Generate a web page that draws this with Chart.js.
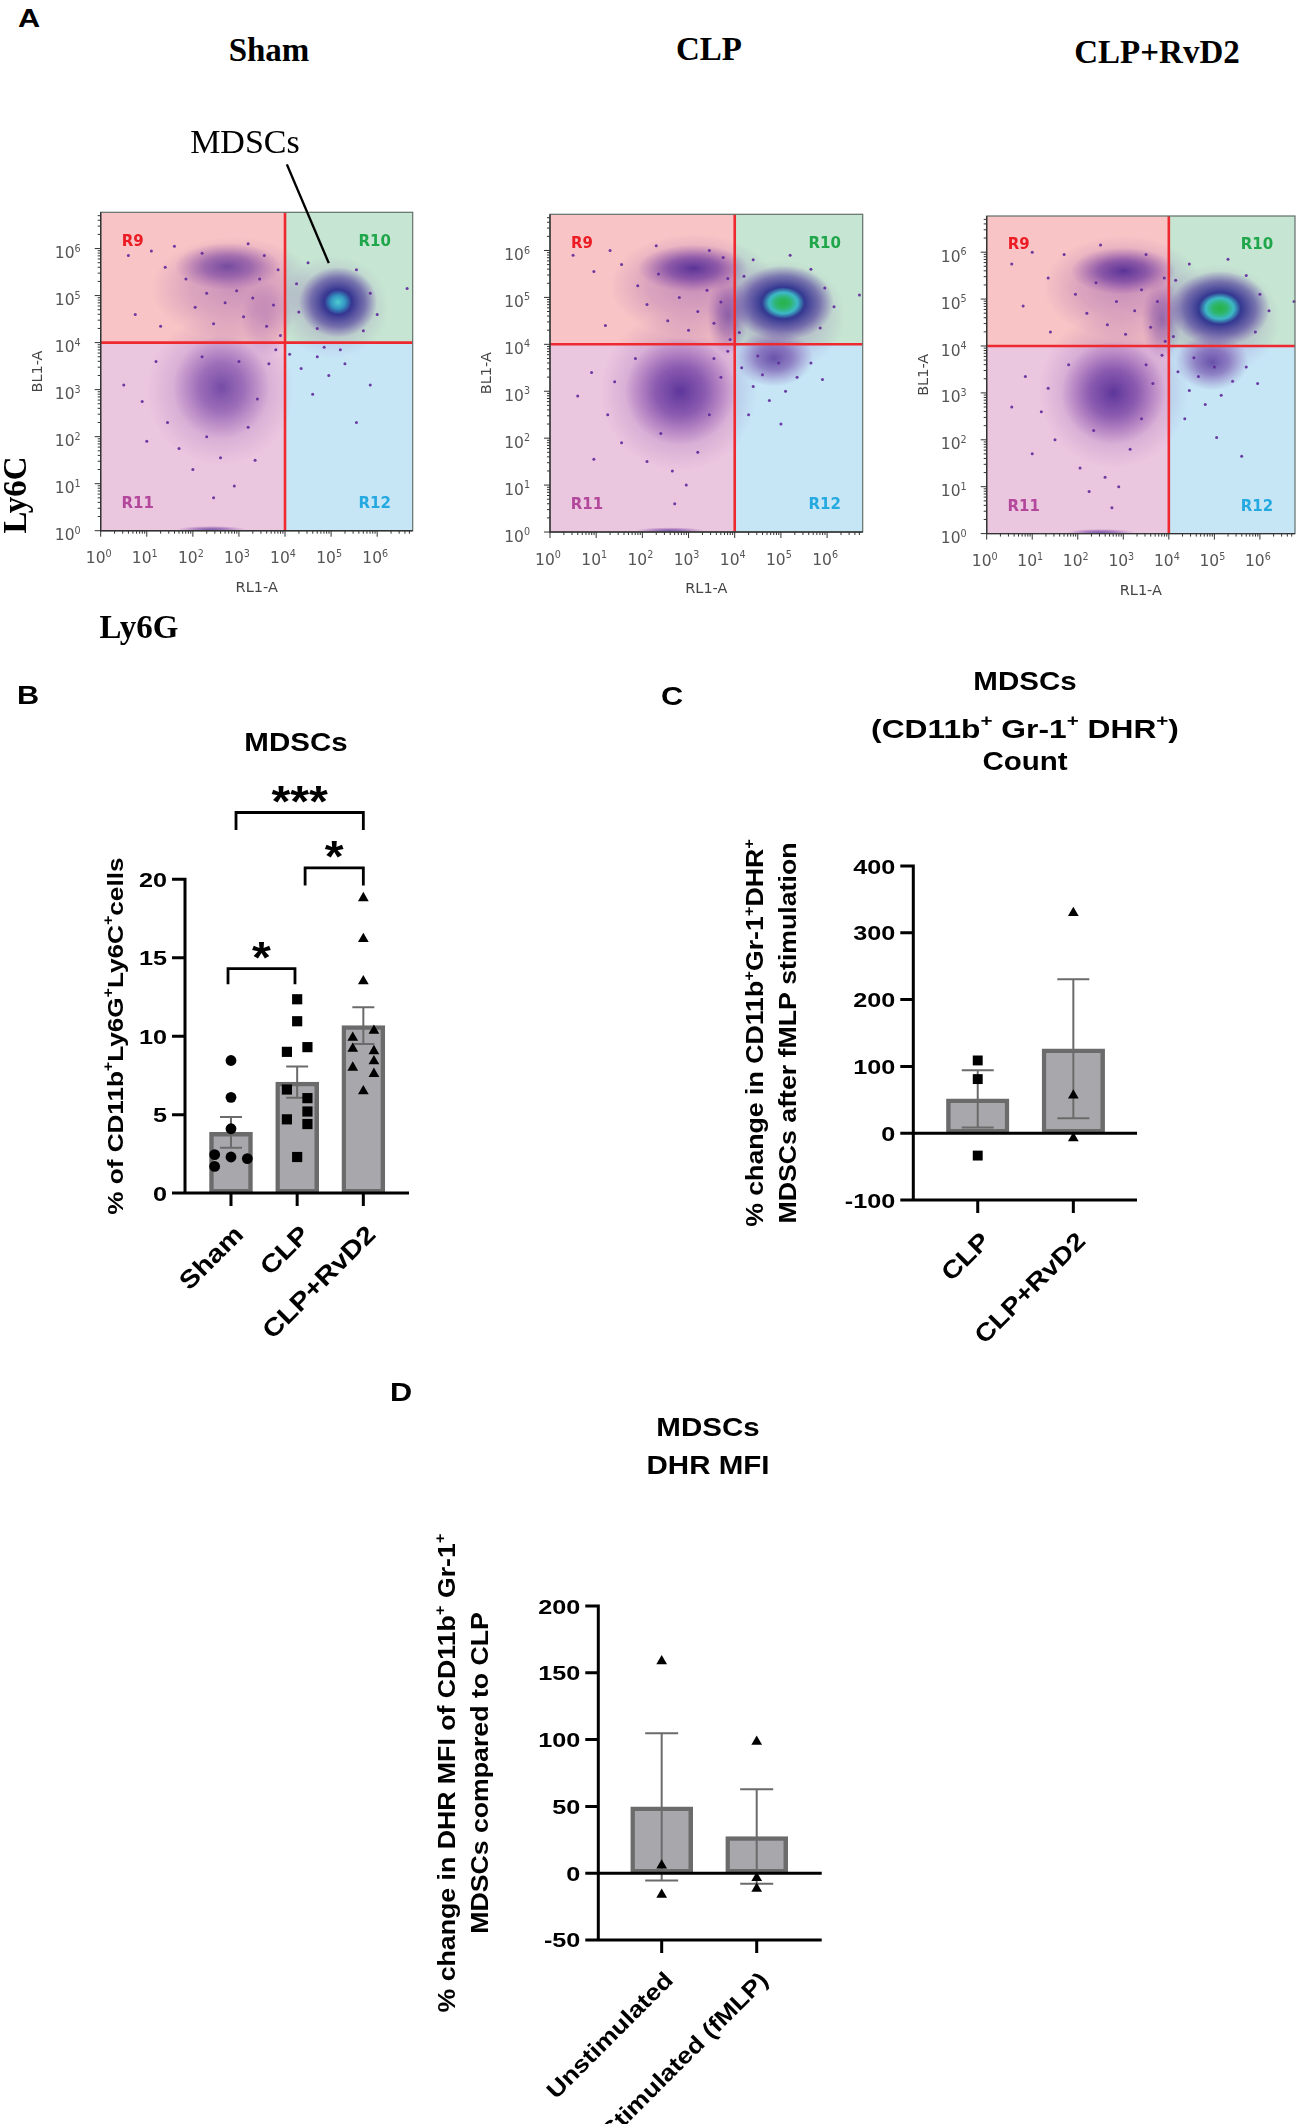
<!DOCTYPE html>
<html>
<head>
<meta charset="utf-8">
<title>MDSCs</title>
<script src="https://cdn.jsdelivr.net/npm/chart.js@4.4.1/dist/chart.umd.min.js"></script>
<style>
  html, body { margin: 0; padding: 0; background: #fff; }
  body { position: relative; width: 1299px; height: 2124px; overflow: hidden; }
  canvas { position: absolute; }
  .t { position: absolute; white-space: nowrap; line-height: 1; color: #000; transform: translate(-50%, -50%); }
  .serif { font-family: "Liberation Serif", "Times New Roman", serif; font-weight: bold; font-size: 33px; }
  .sans { font-family: "Liberation Sans", Arial, sans-serif; font-weight: bold; font-size: 25px; transform: translate(-50%, -50%) scaleX(1.18); }
  .wide { transform: translate(-50%, -50%) scaleX(1.27); }
  .letter { font-size: 26px; }
  .sup { position: relative; top: -0.75em; font-size: 0.65em; }
</style>
</head>
<body>
<canvas id="flowSham" width="430" height="530" style="left:0px;top:90px"></canvas>
<canvas id="flowClp" width="440" height="530" style="left:440px;top:90px"></canvas>
<canvas id="flowRvd2" width="419" height="530" style="left:880px;top:90px"></canvas>
<canvas id="panelB" width="440" height="720" style="left:0px;top:640px"></canvas>
<canvas id="panelC" width="540" height="720" style="left:640px;top:640px"></canvas>
<canvas id="panelD" width="520" height="784" style="left:340px;top:1340px"></canvas>

<div class="t sans letter" style="left:29px;top:18px">A</div>
<div class="t serif" style="left:269px;top:50px">Sham</div>
<div class="t serif" style="left:709px;top:49px">CLP</div>
<div class="t serif" style="left:1157px;top:52px">CLP+RvD2</div>
<div class="t serif" style="left:15px;top:495px;transform:translate(-50%,-50%) rotate(-90deg)">Ly6C</div>
<div class="t serif" style="left:139px;top:627px">Ly6G</div>

<div class="t sans letter" style="left:28px;top:695px">B</div>
<div class="t sans" style="left:296px;top:742px">MDSCs</div>

<div class="t sans letter" style="left:672px;top:696px">C</div>
<div class="t sans" style="left:1025px;top:681px">MDSCs</div>
<div class="t sans wide" style="left:1025px;top:729px">(CD11b<span class="sup">+</span> Gr-1<span class="sup">+</span> DHR<span class="sup">+</span>)</div>
<div class="t sans" style="left:1025px;top:761px">Count</div>

<div class="t sans letter" style="left:401px;top:1392px">D</div>
<div class="t sans" style="left:708px;top:1427px">MDSCs</div>
<div class="t sans" style="left:708px;top:1465px">DHR MFI</div>

<script>
// ---------- Panel A: flow cytometry, RL1-A (Ly6G) vs BL1-A (Ly6C) ----------
const flowDecades = [0, 1, 2, 3, 4, 5, 6];
const flowMax = 5.9e6;
const gateLy6G = 1e4;
const gateLy6C = 1e4;
const regionNames = ['R9', 'R10', 'R11', 'R12'];

// clouds: [log10 RL1-A, log10 BL1-A, spread RL1-A (decades), spread BL1-A (decades), kind, density]
// kind 0 = sparse haze, 1 = dense purple, 2 = cyan core, 3 = green core
const shamClusters = [
  [2.9, 5.15, 1.8, 1.1, 0, 0.7],
  [2.75, 5.62, 1.15, 0.5, 1, 0.75],
  [2.6, 3.0, 1.6, 1.6, 0, 0.65],
  [2.62, 3.05, 1.05, 1.1, 1, 0.7],
  [3.6, 4.5, 0.55, 0.8, 0, 0.55],
  [5.05, 4.75, 1.2, 1.1, 0, 0.55],
  [5.15, 4.86, 0.85, 0.75, 2, 1],
  [2.4, 0.03, 0.75, 0.07, 1, 0.7]
];
const clpClusters = [
  [3.1, 5.25, 1.8, 1.1, 0, 0.75],
  [3.1, 5.62, 1.2, 0.5, 1, 0.95],
  [2.8, 3.0, 1.7, 1.7, 0, 0.75],
  [2.82, 3.0, 1.2, 1.15, 1, 0.9],
  [3.85, 4.6, 0.45, 0.85, 1, 0.6],
  [5.0, 4.6, 1.4, 1.2, 0, 0.65],
  [4.85, 3.7, 0.85, 0.6, 1, 0.8],
  [5.05, 4.88, 1.1, 0.8, 3, 1],
  [2.6, 0.03, 0.75, 0.07, 1, 0.7]
];
const rvd2Clusters = [
  [3.0, 5.25, 1.75, 1.1, 0, 0.75],
  [3.0, 5.6, 1.15, 0.5, 1, 0.95],
  [2.8, 3.05, 1.65, 1.65, 0, 0.75],
  [2.78, 3.0, 1.15, 1.1, 1, 0.9],
  [3.85, 4.55, 0.45, 0.85, 1, 0.55],
  [5.05, 4.55, 1.4, 1.2, 0, 0.65],
  [4.95, 3.65, 0.8, 0.6, 1, 0.8],
  [5.12, 4.8, 1.1, 0.8, 3, 1],
  [2.5, 0.03, 0.75, 0.07, 1, 0.7]
];

// single events outside the clouds: [log10 RL1-A, log10 BL1-A]
const shamEvents = [
  [0.6,5.85],[1.1,5.95],[1.4,5.6],[1.6,6.05],[1.85,5.35],[2.05,4.75],[2.3,5.05],[2.45,4.4],
  [2.7,4.85],[2.95,5.1],[3.1,4.55],[3.3,4.95],[3.45,5.35],[3.6,4.35],[3.75,4.8],[3.85,5.55],
  [3.9,4.15],[3.55,5.85],[1.3,4.35],[0.75,4.6],[2.2,5.9],[3.2,6.1],
  [0.5,3.1],[0.9,2.75],[1.2,3.6],[1.45,2.3],[1.7,1.75],[2.0,1.3],[2.3,2.0],[2.6,1.55],
  [2.9,0.95],[3.2,2.2],[3.4,2.8],[3.65,3.55],[3.8,3.85],[3.35,1.5],[2.45,0.7],[1.0,1.9],
  [3.0,3.6],[2.2,3.7],
  [4.25,5.25],[4.5,5.7],[4.7,4.3],[5.55,5.55],[5.85,5.05],[6.0,4.6],[6.65,5.15],[4.3,4.65],[5.7,4.25],
  [4.1,3.75],[4.35,3.45],[4.7,3.7],[4.95,3.3],[5.3,3.55],[5.85,3.1],[4.6,2.9],[5.55,2.3],[4.85,3.9],[5.2,3.85]
];
const clpEvents = [
  [0.5,5.9],[0.95,5.55],[1.3,6.0],[1.55,5.7],[1.9,5.25],[2.1,4.85],[2.35,5.5],[2.55,4.5],
  [2.8,5.0],[3.0,4.3],[3.2,4.7],[3.4,5.15],[3.55,4.45],[3.7,4.9],[3.85,5.4],[3.9,4.1],
  [2.3,6.1],[3.45,6.0],[1.2,4.4],[3.75,5.85],
  [0.6,2.9],[0.9,3.4],[1.25,2.5],[1.55,1.9],[1.85,3.7],[2.1,1.5],[2.4,2.1],[2.65,1.3],
  [2.95,1.0],[3.2,1.7],[3.45,2.5],[3.7,3.3],[3.85,3.85],[3.55,3.7],[2.7,0.6],[0.95,1.55],[1.4,3.2],
  [4.2,5.45],[4.4,5.8],[5.2,5.9],[5.65,5.6],[5.95,5.2],[6.15,4.8],[6.7,5.05],[4.1,4.25],[5.85,4.35],
  [4.15,3.5],[4.4,3.1],[4.6,3.35],[4.75,2.8],[5.1,3.0],[5.35,3.3],[5.65,3.6],[5.9,3.25],
  [4.3,2.5],[5.0,2.3],[4.95,3.6],[4.5,3.75]
];
const rvd2Events = [
  [0.55,5.75],[1.0,6.0],[1.35,5.45],[1.7,5.95],[1.95,5.1],[2.2,4.7],[2.4,5.35],[2.65,4.45],
  [2.85,4.95],[3.05,4.25],[3.25,4.75],[3.4,5.2],[3.6,4.4],[3.75,4.95],[3.9,5.45],[3.92,4.1],
  [2.5,6.15],[3.5,5.95],[1.4,4.3],[0.8,4.85],
  [0.55,2.7],[0.85,3.35],[1.2,2.6],[1.5,2.0],[1.8,3.6],[2.05,1.4],[2.35,2.2],[2.6,1.2],
  [2.9,1.0],[3.15,1.8],[3.4,2.45],[3.65,3.2],[3.85,3.8],[3.5,3.6],[2.75,0.55],[1.0,1.7],
  [1.35,3.1],[2.25,0.9],
  [4.15,5.4],[4.45,5.75],[5.3,5.85],[5.7,5.5],[6.0,5.1],[6.2,4.75],[6.75,4.95],[4.1,4.2],[5.9,4.3],
  [4.2,3.45],[4.45,3.05],[4.65,3.35],[4.8,2.75],[5.15,2.95],[5.4,3.25],[5.7,3.55],[5.95,3.2],
  [4.35,2.45],[5.05,2.05],[5.0,3.55],[4.55,3.75],[5.6,1.65]
];

// MDSCs call-out on the Sham plot, in log10 axis units
const shamNoteAt = [3.13, 8.28];
const shamArrowFrom = [4.04, 7.79];
const shamArrowTo = [4.95, 5.69];

// ---------- Panel B ----------
const bGroups = ['Sham', 'CLP', 'CLP+RvD2'];
const bMeans = [3.87, 7.07, 10.67];
const bSem = [0.98, 1.0, 1.17];
const bSham = [8.45, 6.1, 4.1, 2.45, 2.3, 2.2, 1.7];
const bClp = [12.35, 10.95, 9.0, 9.3, 6.6, 6.05, 5.2, 4.7, 4.4, 2.3];
const bRvd2 = [18.8, 16.2, 13.5, 10.35, 9.9, 9.2, 9.05, 8.4, 8.0, 7.6, 6.5];
const bColumns = [
  [0, 0, 0, -1, 0, 1, -1],
  [0, 0, -1, 1, -1, 1, 1, -1, 1, 0],
  [0, 0, 0, 1, -1, -1, 1, 1, -1, 1, 0]
];
const bTicks = [0, 5, 10, 15, 20];
// [from group, to group, bracket height, leg end, label]
const bBrackets = [
  [-0.045, 0.967, 14.3, 13.3, '*'],
  [1.12, 2.0, 20.72, 19.6, '*'],
  [0.076, 2.0, 24.25, 23.13, '***']
];

// ---------- Panel C ----------
const cGroups = ['CLP', 'CLP+RvD2'];
const cMeans = [51.4, 126.4];
const cSem = [43, 104];
const cClp = [108.9, 81, -33.5];
const cRvd2 = [329.8, 56.4, -7.5];
const cTicks = [-100, 0, 100, 200, 300, 400];

// ---------- Panel D ----------
const dGroups = ['Unstimulated', 'Stimulated (fMLP)'];
const dMeans = [49.6, 27.4];
const dSem = [55.1, 35.4];
const dUnstim = [158.8, 5.8, -16.1];
const dStim = [98.5, -3.6, -11.7];
const dTicks = [-50, 0, 50, 100, 150, 200];

const SANS = '"Liberation Sans", Arial, Helvetica, sans-serif';
const FLOWFONT = '"DejaVu Sans", Verdana, sans-serif';

// text with optional superscript parts, stretched along its reading direction
function drawRich(ctx, parts, x, y, o) {
  const list = typeof parts === 'string' ? [[parts, 0]] : parts;
  const fs = o.size;
  const supFs = fs * 0.62;
  const weight = o.weight || 'bold';
  const family = o.family || SANS;
  ctx.save();
  ctx.translate(x, y);
  if (o.rotate) ctx.rotate(o.rotate);
  ctx.scale(o.stretch || 1, 1);
  ctx.textAlign = 'left';
  ctx.textBaseline = 'alphabetic';
  ctx.fillStyle = o.color || '#000';
  const widths = list.map(([t, s]) => {
    ctx.font = `${weight} ${s ? supFs : fs}px ${family}`;
    return ctx.measureText(t).width;
  });
  const total = widths.reduce((acc, w) => acc + w, 0);
  let cx = o.align === 'right' ? -total : o.align === 'center' ? -total / 2 : 0;
  const base = o.base !== undefined ? o.base : fs * 0.36;
  list.forEach(([t, s], i) => {
    ctx.font = `${weight} ${s ? supFs : fs}px ${family}`;
    ctx.fillText(t, cx, base - (s ? fs * 0.42 : 0));
    cx += widths[i];
  });
  ctx.restore();
}

const cloudStops = [
  [[0, 'rgba(120,55,165,0.5)'], [0.55, 'rgba(120,55,165,0.3)'], [1, 'rgba(120,55,165,0)']],
  [[0, 'rgba(72,36,145,0.92)'], [0.45, 'rgba(95,45,155,0.65)'], [0.8, 'rgba(110,50,160,0.22)'], [1, 'rgba(110,50,160,0)']],
  [[0, 'rgba(80,205,210,1)'], [0.18, 'rgba(45,150,195,0.95)'], [0.35, 'rgba(42,42,140,0.92)'],
   [0.7, 'rgba(65,45,150,0.55)'], [1, 'rgba(90,50,160,0)']],
  [[0, 'rgba(40,178,72,1)'], [0.14, 'rgba(45,182,105,1)'], [0.28, 'rgba(55,185,200,0.95)'],
   [0.42, 'rgba(40,45,140,0.92)'], [0.72, 'rgba(65,45,150,0.55)'], [1, 'rgba(90,50,160,0)']]
];

function drawCloud(ctx, xs, ys, c) {
  const [lx, ly, sx, sy, kind, density] = c;
  const cx = xs.getPixelForValue(10 ** lx);
  const cy = ys.getPixelForValue(10 ** ly);
  const rx = Math.abs(xs.getPixelForValue(10 ** (lx + sx)) - cx);
  const ry = Math.abs(ys.getPixelForValue(10 ** (ly + sy)) - cy);
  ctx.save();
  ctx.globalAlpha = density;
  ctx.translate(cx, cy);
  ctx.scale(rx, ry);
  const g = ctx.createRadialGradient(0, 0, 0, 0, 0, 1);
  cloudStops[kind].forEach(([o, col]) => g.addColorStop(o, col));
  ctx.fillStyle = g;
  ctx.beginPath();
  ctx.arc(0, 0, 1, 0, Math.PI * 2);
  ctx.fill();
  ctx.restore();
}

function flowPlugin(clusters, note) {
  return {
    id: 'flow',
    beforeDatasetsDraw(chart) {
      const { ctx, chartArea: a, scales: { x, y } } = chart;
      const gx = x.getPixelForValue(gateLy6G);
      const gy = y.getPixelForValue(gateLy6C);
      ctx.save();
      ctx.fillStyle = '#f8c4c5';
      ctx.fillRect(a.left, a.top, gx - a.left, gy - a.top);
      ctx.fillStyle = '#c6e5d2';
      ctx.fillRect(gx, a.top, a.right - gx, gy - a.top);
      ctx.fillStyle = '#ebc6df';
      ctx.fillRect(a.left, gy, gx - a.left, a.bottom - gy);
      ctx.fillStyle = '#c6e6f6';
      ctx.fillRect(gx, gy, a.right - gx, a.bottom - gy);
      ctx.beginPath();
      ctx.rect(a.left, a.top, a.right - a.left, a.bottom - a.top);
      ctx.clip();
      clusters.forEach(c => drawCloud(ctx, x, y, c));
      ctx.restore();
    },
    afterDatasetsDraw(chart) {
      const { ctx, chartArea: a, scales: { x, y } } = chart;
      const gx = x.getPixelForValue(gateLy6G);
      const gy = y.getPixelForValue(gateLy6C);
      ctx.save();
      // gates
      ctx.strokeStyle = '#ee2a30';
      ctx.lineWidth = 2.6;
      ctx.beginPath();
      ctx.moveTo(gx, a.top); ctx.lineTo(gx, a.bottom);
      ctx.moveTo(a.left, gy); ctx.lineTo(a.right, gy);
      ctx.stroke();
      // frame
      ctx.strokeStyle = '#62706a';
      ctx.lineWidth = 1.2;
      ctx.strokeRect(a.left, a.top, a.right - a.left, a.bottom - a.top);
      ctx.strokeStyle = '#333';
      ctx.lineWidth = 1.4;
      ctx.beginPath();
      ctx.moveTo(a.left, a.top); ctx.lineTo(a.left, a.bottom); ctx.lineTo(a.right, a.bottom);
      ctx.stroke();
      // log ticks
      ctx.lineWidth = 1;
      ctx.beginPath();
      flowDecades.forEach(n => {
        for (let k = 1; k < 10; k++) {
          const v = k * 10 ** n;
          if (v > flowMax) break;
          const len = k === 1 ? 6 : 3;
          const px = x.getPixelForValue(v);
          const py = y.getPixelForValue(v);
          ctx.moveTo(px, a.bottom); ctx.lineTo(px, a.bottom + len);
          ctx.moveTo(a.left - len, py); ctx.lineTo(a.left, py);
        }
      });
      ctx.stroke();
      // decade labels
      const lab = { size: 15.5, weight: 'normal', family: FLOWFONT, color: '#555' };
      flowDecades.forEach(n => {
        const parts = [['10', 0], [String(n), 1]];
        drawRich(ctx, parts, x.getPixelForValue(10 ** n) - 2, a.bottom + 27, { ...lab, align: 'center' });
        drawRich(ctx, parts, a.left - 20, y.getPixelForValue(10 ** n) + 4, { ...lab, align: 'right' });
      });
      const axisLab = { size: 14.5, weight: 'normal', family: FLOWFONT, color: '#444', align: 'center' };
      drawRich(ctx, 'RL1-A', (a.left + a.right) / 2, a.bottom + 56, axisLab);
      drawRich(ctx, 'BL1-A', a.left - 64, (a.top + a.bottom) / 2, { ...axisLab, rotate: -Math.PI / 2 });
      // region names
      const reg = { size: 15, family: FLOWFONT, align: 'center' };
      drawRich(ctx, regionNames[0], a.left + 32, a.top + 28, { ...reg, color: '#ec1c24' });
      drawRich(ctx, regionNames[1], a.right - 38, a.top + 28, { ...reg, color: '#1fa64a' });
      drawRich(ctx, regionNames[2], a.left + 37, a.bottom - 28, { ...reg, color: '#b2479b' });
      drawRich(ctx, regionNames[3], a.right - 38, a.bottom - 28, { ...reg, color: '#25a9e0' });
      // call-out
      if (note) {
        ctx.strokeStyle = '#000';
        ctx.lineWidth = 2.4;
        ctx.beginPath();
        ctx.moveTo(x.getPixelForValue(10 ** note.from[0]), y.getPixelForValue(10 ** note.from[1]));
        ctx.lineTo(x.getPixelForValue(10 ** note.to[0]), y.getPixelForValue(10 ** note.to[1]));
        ctx.stroke();
        drawRich(ctx, note.text, x.getPixelForValue(10 ** note.at[0]), y.getPixelForValue(10 ** note.at[1]),
          { size: 34, weight: 'normal', family: '"Liberation Serif", "Times New Roman", serif', align: 'center', base: 34 * 0.33 });
      }
      ctx.restore();
    }
  };
}

function flowChart(id, clusters, events, padding, note) {
  new Chart(document.getElementById(id), {
    type: 'scatter',
    data: {
      datasets: [{
        data: events.map(e => ({ x: 10 ** e[0], y: 10 ** e[1] })),
        pointRadius: 1.5,
        pointBackgroundColor: 'rgba(95,40,155,0.9)',
        pointBorderWidth: 0,
        clip: false
      }]
    },
    options: {
      responsive: false,
      animation: false,
      devicePixelRatio: 1,
      layout: { padding },
      plugins: { legend: { display: false }, tooltip: { enabled: false } },
      scales: {
        x: { type: 'logarithmic', min: 1, max: flowMax, display: false },
        y: { type: 'logarithmic', min: 1, max: flowMax, display: false }
      }
    },
    plugins: [flowPlugin(clusters, note)]
  });
}

flowChart('flowSham', shamClusters, shamEvents, { left: 100.7, top: 122.3, right: 17.3, bottom: 89.3 },
  { text: 'MDSCs', at: shamNoteAt, from: shamArrowFrom, to: shamArrowTo });
flowChart('flowClp', clpClusters, clpEvents, { left: 110, top: 124.3, right: 17.3, bottom: 88 });
flowChart('flowRvd2', rvd2Clusters, rvd2Events, { left: 106.7, top: 126, right: 0, bottom: 86.4 });

// ---------- bar panels ----------
function barPlugin(p) {
  return {
    id: 'barPanel',
    afterDatasetDraw(chart, args) {
      if (args.index !== 0) return;
      const { ctx, chartArea: a, scales: { x, y } } = chart;
      ctx.save();
      // SEM error bars
      ctx.strokeStyle = '#6b6b6b';
      ctx.lineWidth = 2;
      ctx.beginPath();
      p.means.forEach((m, i) => {
        const px = x.getPixelForValue(i);
        const top = y.getPixelForValue(m + p.sem[i]);
        const bot = y.getPixelForValue(m - p.sem[i]);
        ctx.moveTo(px, top); ctx.lineTo(px, bot);
        ctx.moveTo(px - p.cap, top); ctx.lineTo(px + p.cap, top);
        ctx.moveTo(px - p.cap, bot); ctx.lineTo(px + p.cap, bot);
      });
      ctx.stroke();
      // axes
      ctx.strokeStyle = '#000';
      ctx.lineWidth = 3;
      ctx.beginPath();
      ctx.moveTo(a.left, a.top - 1.5); ctx.lineTo(a.left, a.bottom + 1.5);
      ctx.moveTo(a.left, a.bottom); ctx.lineTo(a.right, a.bottom);
      if (y.min < 0) {
        const z = y.getPixelForValue(0);
        ctx.moveTo(a.left, z); ctx.lineTo(a.right, z);
      }
      p.ticks.forEach(t => {
        const py = y.getPixelForValue(t);
        ctx.moveTo(a.left - 13, py); ctx.lineTo(a.left, py);
      });
      p.groups.forEach((g, i) => {
        const px = x.getPixelForValue(i);
        ctx.moveTo(px, a.bottom); ctx.lineTo(px, a.bottom + 13);
      });
      ctx.stroke();
      ctx.restore();
    },
    afterDraw(chart) {
      const { ctx, chartArea: a, scales: { x, y } } = chart;
      p.ticks.forEach(t => {
        drawRich(ctx, String(t), a.left - 18, y.getPixelForValue(t), { size: 21, stretch: 1.2, align: 'right' });
      });
      p.groups.forEach((g, i) => {
        drawRich(ctx, g, x.getPixelForValue(i) + 1, a.bottom + 30,
          { size: p.groupSize, stretch: 1.15, align: 'right', rotate: -Math.PI / 4, base: p.groupSize * 0.72 });
      });
      const midY = (a.top + a.bottom) / 2;
      p.titles.forEach((t, k) => {
        drawRich(ctx, t, a.left + p.titleDx[k], midY, { size: p.titleSize, stretch: 1.16, align: 'center', rotate: -Math.PI / 2 });
      });
      if (p.brackets) {
        ctx.save();
        ctx.strokeStyle = '#000';
        ctx.lineWidth = 2.8;
        p.brackets.forEach(([g0, g1, h, leg, label]) => {
          const x0 = x.getPixelForValue(g0), x1 = x.getPixelForValue(g1);
          const yh = y.getPixelForValue(h), yl = y.getPixelForValue(leg);
          ctx.beginPath();
          ctx.moveTo(x0, yl); ctx.lineTo(x0, yh); ctx.lineTo(x1, yh); ctx.lineTo(x1, yl);
          ctx.stroke();
          drawRich(ctx, label, (x0 + x1) / 2, yh - 21, { size: 44, stretch: 1.1, align: 'center', base: 44 * 0.57 });
        });
        ctx.restore();
      }
    }
  };
}

function barPanel(id, p) {
  const datasets = [{
    type: 'bar',
    data: p.means.map((m, i) => ({ x: i, y: m })),
    backgroundColor: '#a8a8ac',
    borderColor: '#6b6b6b',
    borderWidth: 4.5,
    borderSkipped: false,
    barThickness: p.barWidth,
    order: 3
  }];
  p.points.forEach((vals, i) => {
    datasets.push({
      type: 'scatter',
      data: vals.map((v, j) => ({ x: i + (p.columns ? p.columns[i][j] * p.columnStep[i] : 0), y: v })),
      pointStyle: p.markers[i],
      pointRadius: p.markerSize[i],
      pointBackgroundColor: '#000',
      pointBorderWidth: 0,
      clip: false,
      order: 1
    });
  });
  new Chart(document.getElementById(id), {
    type: 'bar',
    data: { datasets },
    options: {
      responsive: false,
      animation: false,
      devicePixelRatio: 1,
      layout: { padding: p.padding },
      plugins: { legend: { display: false }, tooltip: { enabled: false } },
      scales: {
        x: { type: 'linear', min: p.xMin, max: p.xMax, offset: false, display: false },
        y: { type: 'linear', min: p.ticks[0], max: p.ticks[p.ticks.length - 1], display: false }
      }
    },
    plugins: [barPlugin(p)]
  });
}

barPanel('panelB', {
  groups: bGroups, means: bMeans, sem: bSem, points: [bSham, bClp, bRvd2],
  columns: bColumns, columnStep: [0.247, 0.155, 0.16],
  markers: ['circle', 'rect', 'triangle'], markerSize: [5.4, 7.2, 6.2],
  ticks: bTicks, brackets: bBrackets,
  titles: [[['% of CD11b', 0], ['+', 1], ['Ly6G', 0], ['+', 1], ['Ly6C', 0], ['+', 1], ['cells', 0]]],
  titleDx: [-70.3], titleSize: 22.5, groupSize: 25,
  barWidth: 43, cap: 11, xMin: -0.695, xMax: 2.69,
  padding: { left: 185, top: 239.2, right: 31, bottom: 166.9 }
});

barPanel('panelC', {
  groups: cGroups, means: cMeans, sem: cSem, points: [cClp, cRvd2],
  markers: ['rect', 'triangle'], markerSize: [7, 6.2],
  ticks: cTicks,
  titles: [
    [['% change in CD11b', 0], ['+', 1], ['Gr-1', 0], ['+', 1], ['DHR', 0], ['+', 1]],
    'MDSCs after fMLP stimulation'
  ],
  titleDx: [-158.3, -125.3], titleSize: 23, groupSize: 24.5,
  barWidth: 62.6, cap: 16, xMin: -0.674, xMax: 1.666,
  padding: { left: 273.3, top: 226, right: 43, bottom: 160 }
});

barPanel('panelD', {
  groups: dGroups, means: dMeans, sem: dSem, points: [dUnstim, dStim],
  markers: ['triangle', 'triangle'], markerSize: [6.2, 6.2],
  ticks: dTicks,
  titles: [
    [['% change in DHR MFI of CD11b', 0], ['+', 1], [' Gr-1', 0], ['+', 1]],
    'MDSCs compared to CLP'
  ],
  titleDx: [-151.6, -118.3], titleSize: 23, groupSize: 23,
  barWidth: 62, cap: 16.5, xMin: -0.667, xMax: 1.684,
  padding: { left: 258.3, top: 266.1, right: 38.3, bottom: 184.1 }
});
</script>
</body>
</html>
